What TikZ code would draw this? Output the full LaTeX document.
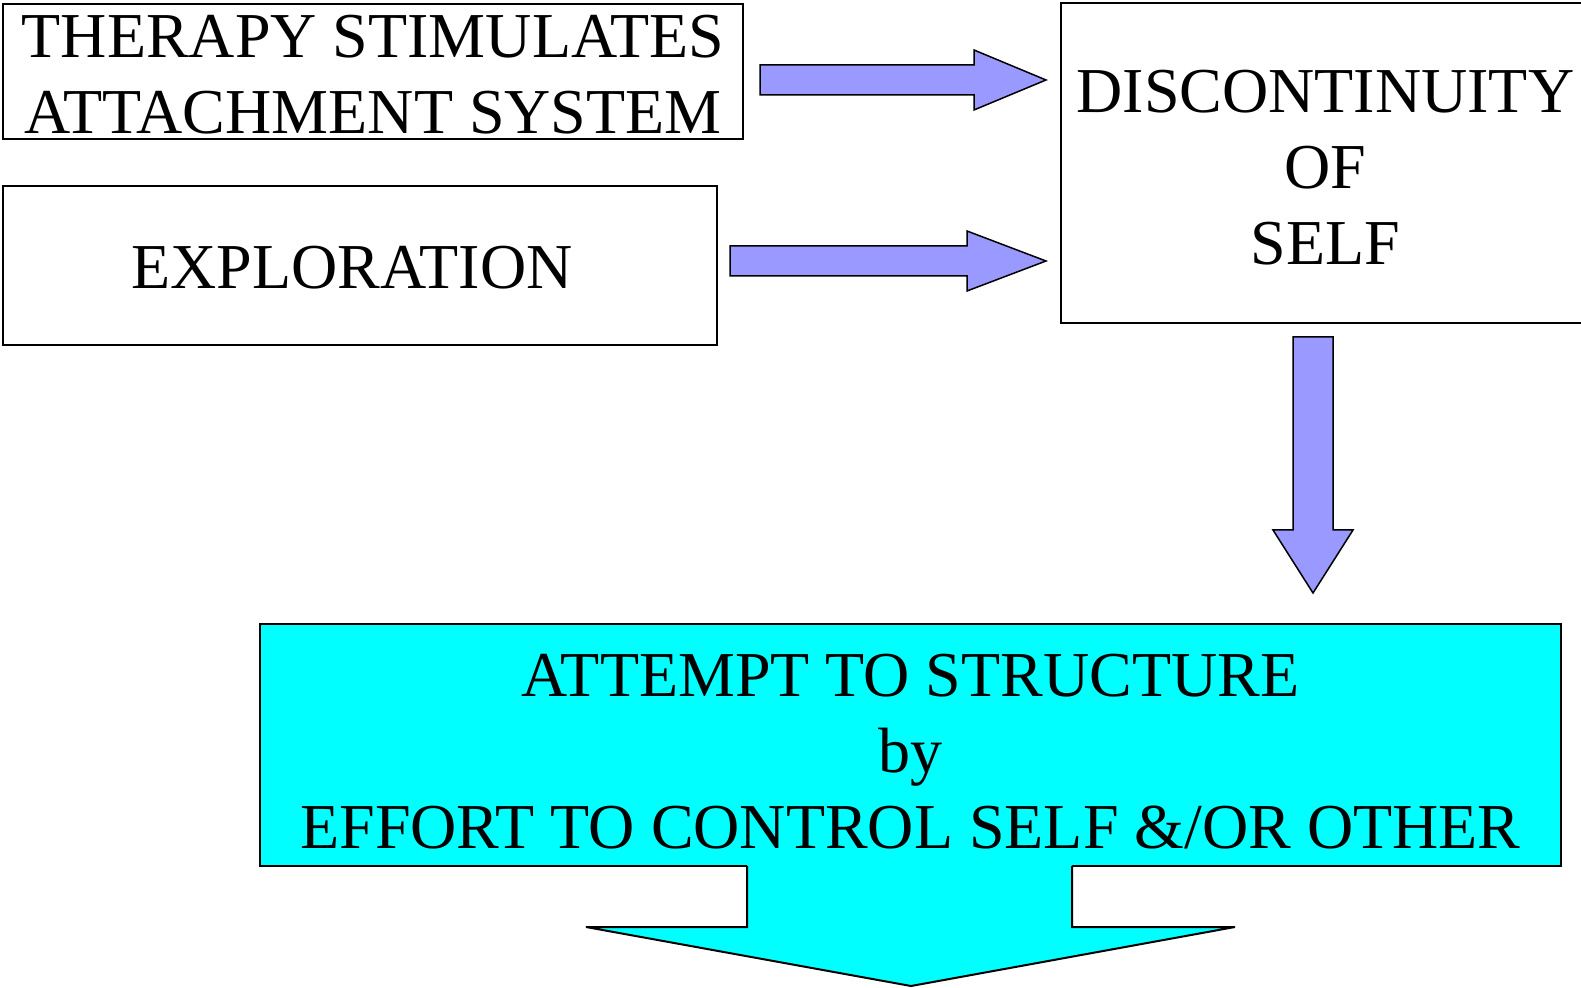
\documentclass[tikz,border=0pt]{standalone}
\usepackage{fontspec}
\setmainfont{Liberation Serif}
\usetikzlibrary{calc}

\definecolor{arrowblue}{RGB}{153,153,255}
\definecolor{boxcyan}{RGB}{0,255,255}

% block arrow pointing right: shaft start, tip, head length
\newcommand{\rightblock}[3]{%
  \draw[blockarrow] ($(#1)+(0,-15)$) -- ($(#2)+(-#3,-15)$) -- ($(#2)+(-#3,-30)$)
    -- (#2) -- ($(#2)+(-#3,30)$) -- ($(#2)+(-#3,15)$) -- ($(#1)+(0,15)$) -- cycle;}

\begin{document}
\begin{tikzpicture}[x=0.5pt,y=-0.5pt]
    \tikzset{
      box/.style={draw,line width=1pt,inner sep=0pt},
      boxtext/.style={align=center,inner sep=0pt,font=\fontsize{32}{38}\selectfont},
      blockarrow/.style={draw,line width=0.75pt,fill=arrowblue,line join=miter},
    }
    % page size in pixels of the slide
    \useasboundingbox (0,0) rectangle (1581,988);

    % the three boxes at the top
    \node[box,minimum width=370pt,minimum height=67.5pt] (therapy) at (373,71.5) {};
    \node[boxtext] (therapytext) at ($(therapy.center)+(0,3)$)
      {THERAPY STIMULATES\\ATTACHMENT SYSTEM};
    \node[box,minimum width=357pt,minimum height=79.5pt] (explore) at (360,265.5) {};
    \node[boxtext] (exploretext) at ($(explore.center)+(-8,2)$) {EXPLORATION};
    \node[box,minimum width=264.5pt,minimum height=160pt] (disc) at (1325.5,163) {};
    \node[boxtext] (disctext) at ($(disc.center)+(0,5)$) {DISCONTINUITY\\OF\\SELF};

    % arrows into the discontinuity box
    \coordinate (a1s) at ($(therapy.east)+(16,8.5)$);
    \coordinate (a1t) at ($(a1s -| disc.west)+(-14,0)$);
    \rightblock{a1s}{a1t}{72}
    \coordinate (a2s) at ($(explore.east)+(12,-4.5)$);
    \coordinate (a2t) at ($(a2s -| disc.west)+(-14,0)$);
    \rightblock{a2s}{a2t}{79}

    % big cyan box with its own arrow below
    \node[box,fill=boxcyan,minimum width=650.5pt,minimum height=121pt] (attempt) at (910.5,745) {};
    \fill[boxcyan] (747,864) -- (747,927) -- (586,927) -- (911,986) -- (1235,927)
      -- (1072,927) -- (1072,864) -- cycle;
    \draw[line width=1pt,line join=miter] (747,866) -- (747,927) -- (586,927) -- (911,986)
      -- (1235,927) -- (1072,927) -- (1072,866);
    \node[boxtext] (attempttext) at ($(attempt.center)+(0,7)$)
      {ATTEMPT TO STRUCTURE\\by\\EFFORT TO CONTROL SELF \&/OR OTHER};

    % arrow down from discontinuity
    \coordinate (d1s) at ($(disc.south)+(-12.5,13)$);
    \coordinate (d1t) at ($(attempt.north -| d1s)+(0,-30)$);
    \draw[blockarrow] ($(d1s)+(-20,0)$) -- ($(d1t)+(-20,-63)$) -- ($(d1t)+(-40,-63)$)
      -- (d1t) -- ($(d1t)+(40,-63)$) -- ($(d1t)+(20,-63)$) -- ($(d1s)+(20,0)$) -- cycle;
\end{tikzpicture}
\end{document}
